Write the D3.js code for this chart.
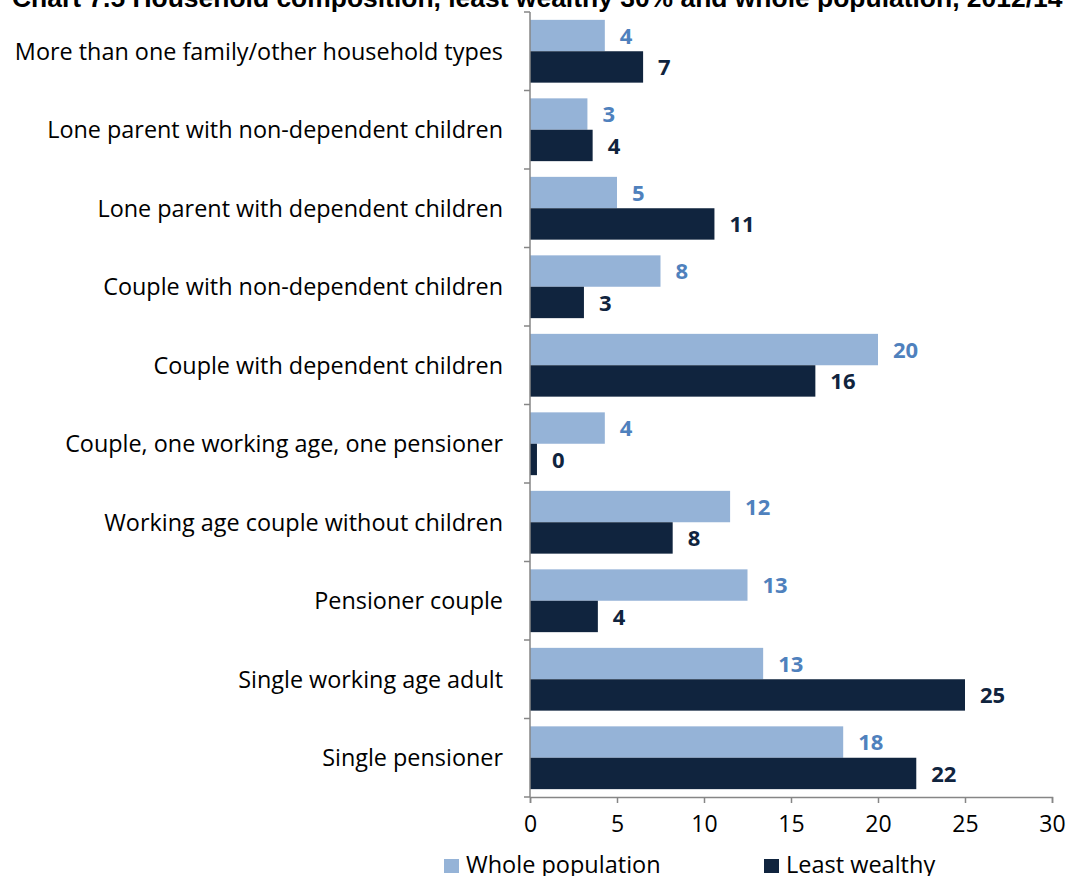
<!DOCTYPE html>
<html>
<head>
<meta charset="utf-8">
<script src="https://cdn.jsdelivr.net/npm/d3@7/dist/d3.min.js"></script>
<style>
  html, body { margin: 0; padding: 0; background: #fff; }
  svg { display: block; }
</style>
</head>
<body>
<svg id="chart" width="1068" height="876"></svg>
<script>
// Household types, listed top to bottom
const categories = [
  "More than one family/other household types",
  "Lone parent with non-dependent children",
  "Lone parent with dependent children",
  "Couple with non-dependent children",
  "Couple with dependent children",
  "Couple, one working age, one pensioner",
  "Working age couple without children",
  "Pensioner couple",
  "Single working age adult",
  "Single pensioner"
];
// Share of households (%)
const wholePopulation = [4.3, 3.3, 5.0, 7.5, 20.0, 4.3, 11.5, 12.5, 13.4, 18.0];
const leastWealthy    = [6.5, 3.6, 10.6, 3.1, 16.4, 0.4, 8.2, 3.9, 25.0, 22.2];
const seriesNames = ["Whole population", "Least wealthy"];
const xTicks = [0, 5, 10, 15, 20, 25, 30];
const title = "Chart 7.5 Household composition, least wealthy 30% and whole population, 2012/14";

const colors = { fill: ["#95B3D7", "#10243E"], label: ["#4F81BD", "#10243E"] };
const axisColor = "#868686";
const font = "'Open Sans', 'DejaVu Sans', sans-serif";

const svg = d3.select("#chart");
const margin = { left: 530, right: 16, top: 12, bottom: 79 };
const W = 1068, H = 876;

const x = d3.scaleLinear().domain([0, 30]).range([margin.left, W - margin.right]);
const y = d3.scaleBand().domain(categories).range([margin.top, H - margin.bottom]).paddingInner(0.2).paddingOuter(0.1);
const yGrid = d3.scaleBand().domain(categories).range([margin.top, H - margin.bottom]);
const sub = d3.scaleBand().domain([0, 1]).range([0, y.bandwidth()]);

// Title
const t = svg.append("text")
  .attr("x", 12).attr("y", 7)
  .attr("font-family", "'Liberation Sans', Arial, sans-serif")
  .attr("font-weight", "bold").attr("font-size", 20)
  .attr("fill", "#000")
  .text(title);
const tw = t.node().getComputedTextLength();
t.attr("font-size", 20 * 1051 / tw);

// Bars
const rows = categories.map((c, i) => ({ c, v: [wholePopulation[i], leastWealthy[i]] }));
const g = svg.append("g");
rows.forEach(r => {
  r.v.forEach((v, s) => {
    const y0 = y(r.c) + sub(s);
    g.append("rect")
      .attr("x", x(0)).attr("y", y0)
      .attr("width", x(v) - x(0)).attr("height", sub.bandwidth())
      .attr("fill", colors.fill[s]);
    g.append("text")
      .attr("x", x(v) + 15).attr("y", y0 + sub.bandwidth() / 2)
      .attr("dy", "0.38em")
      .attr("font-family", font).attr("font-weight", "bold").attr("font-size", 22)
      .attr("fill", colors.label[s])
      .text(Math.round(v));
  });
});

// Category axis
const yAxis = svg.append("g").attr("transform", `translate(${x(0)},0)`);
yAxis.append("line").attr("x1", 0).attr("x2", 0)
  .attr("y1", margin.top).attr("y2", H - margin.bottom)
  .attr("stroke", axisColor).attr("stroke-width", 1.5);
const boundaries = categories.map(c => yGrid(c)).concat([H - margin.bottom]);
yAxis.selectAll(".tk").data(boundaries).join("line")
  .attr("x1", -6).attr("x2", 0).attr("y1", d => d).attr("y2", d => d)
  .attr("stroke", axisColor).attr("stroke-width", 1.5);
yAxis.selectAll(".lbl").data(categories).join("text")
  .attr("x", -27).attr("y", d => yGrid(d) + yGrid.bandwidth() / 2)
  .attr("dy", "0.36em").attr("text-anchor", "end")
  .attr("font-family", font).attr("font-size", 23.4).attr("fill", "#000")
  .text(d => d);

// Value axis
const xAxis = svg.append("g").attr("transform", `translate(0,${H - margin.bottom})`)
  .call(d3.axisBottom(x).tickValues(xTicks).tickSize(6).tickPadding(13).tickFormat(d3.format("d")));
xAxis.select(".domain").attr("stroke", axisColor).attr("stroke-width", 1.5);
xAxis.selectAll(".tick line").attr("stroke", axisColor).attr("stroke-width", 1.5);
xAxis.selectAll(".tick text").attr("font-family", font).attr("font-size", 23).attr("fill", "#000");

// Legend
const legendX = [444, 764];
const legend = svg.append("g");
seriesNames.forEach((n, i) => {
  legend.append("rect").attr("x", legendX[i]).attr("y", 859).attr("width", 15).attr("height", 14)
    .attr("fill", colors.fill[i]);
  legend.append("text").attr("x", legendX[i] + 22).attr("y", 873)
    .attr("font-family", font).attr("font-size", 23.5).attr("fill", "#000").text(n);
});
</script>
</body>
</html>
